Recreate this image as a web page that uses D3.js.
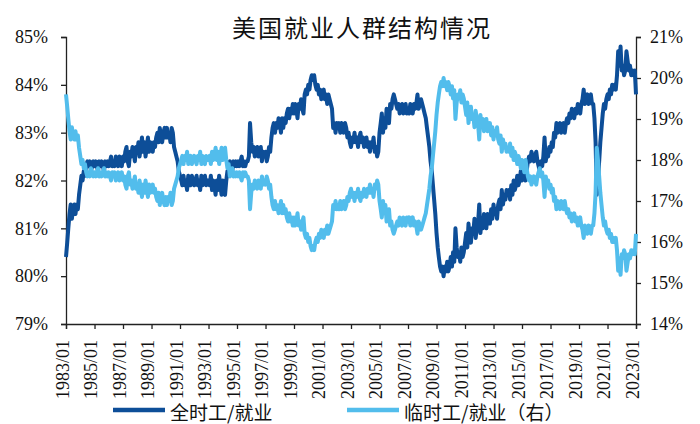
<!DOCTYPE html>
<html>
<head>
<meta charset="utf-8">
<script src="https://cdn.jsdelivr.net/npm/d3@7"></script>
<style>
  body { margin: 0; background: #fff; }
  svg { display: block; }
  .num text { font-family: 'Liberation Serif', 'DejaVu Serif', serif; font-size: 18px; fill: #111; }
</style>
</head>
<body>
<svg id="canvas"></svg>
<script>
// monthly series, 1983/01 .. 2023/01
const startYear = 1983;
const titleText = '美国就业人群结构情况';
const seriesNames = ['全时工/就业', '临时工/就业（右）'];
const leftTicks = [79, 80, 81, 82, 83, 84, 85];
const rightTicks = [14, 15, 16, 17, 18, 19, 20, 21];
const xTickYears = [1983, 1985, 1987, 1989, 1991, 1993, 1995, 1997, 1999, 2001, 2003,
  2005, 2007, 2009, 2011, 2013, 2015, 2017, 2019, 2021, 2023];

// 全时工/就业 (%), left axis
const fullTime = [
  80.4, 80.7, 81.0, 81.3, 81.5, 81.2, 81.4, 81.5, 81.3, 81.5, 81.4, 81.7,
  81.9, 82.1, 82.0, 82.2, 82.1, 82.3, 82.4, 82.3, 82.4, 82.2, 82.3, 82.4,
  82.3, 82.4, 82.3, 82.2, 82.4, 82.3, 82.4, 82.3, 82.2, 82.4, 82.3, 82.4,
  82.3, 82.4, 82.5, 82.3, 82.4, 82.3, 82.5, 82.4, 82.3, 82.5, 82.4, 82.3,
  82.5, 82.4, 82.6, 82.7, 82.4, 82.3, 82.6, 82.5, 82.7, 82.6, 82.4, 82.7,
  82.6, 82.8, 82.5, 82.7, 82.9, 82.6, 82.8, 82.5, 82.7, 82.9, 82.6, 82.8,
  82.7, 82.6, 82.8, 82.7, 82.9, 83.0, 82.8, 83.1, 82.9, 82.8, 83.0, 83.1,
  82.9, 83.1, 82.9, 83.0, 82.8, 83.1, 83.0, 82.7, 82.6, 82.5, 82.4, 82.2,
  82.1, 82.0, 81.9, 82.1, 81.9, 82.0, 81.8, 82.1, 82.0, 81.9, 82.1, 82.0,
  81.9, 82.0, 82.1, 81.9, 82.0, 81.8, 82.1, 81.9, 82.0, 82.1, 81.9, 82.0,
  82.0, 81.9, 82.1, 81.8, 82.0, 81.9, 81.7, 82.0, 81.8, 82.1, 81.9, 81.7,
  82.0, 81.8, 81.7, 82.0, 82.2, 82.1, 82.4, 82.3, 82.2, 82.4, 82.3, 82.4,
  82.3, 82.4, 82.3, 82.4, 82.5, 82.3, 82.4, 82.3, 82.4, 82.4, 82.5, 83.2,
  82.8, 82.6, 82.7, 82.5, 82.6, 82.7, 82.5, 82.6, 82.7, 82.4, 82.6, 82.5,
  82.6, 82.4, 82.5, 82.7, 82.6, 82.9, 83.1, 83.2, 83.0, 83.2, 83.1, 83.3,
  83.2, 83.0, 83.3, 83.1, 83.3, 83.2, 83.4, 83.5, 83.3, 83.5, 83.4, 83.6,
  83.4, 83.6, 83.5, 83.3, 83.6, 83.5, 83.7, 83.5, 83.4, 83.8, 83.9, 83.8,
  84.0, 83.9, 84.1, 84.2, 84.1, 84.2, 84.0, 83.9, 84.0, 83.8, 83.9, 83.7,
  83.8, 83.9, 83.7, 83.8, 83.6, 83.8, 83.7, 83.6, 83.5, 83.1, 83.2, 83.0,
  83.2, 83.1, 83.2, 83.0, 83.2, 83.1, 83.0, 83.2, 83.1, 82.9, 83.0, 82.8,
  82.7, 82.9, 82.8, 83.0, 82.8, 82.9, 82.7, 82.9, 83.0, 82.8, 82.9, 82.7,
  82.8, 82.9, 82.7, 82.8, 82.6, 82.8, 82.7, 82.9, 82.6, 82.7, 82.5, 82.6,
  83.0, 83.2, 83.4, 83.0, 83.3, 83.1, 83.5, 83.3, 83.2, 83.6, 83.5, 83.7,
  83.8, 83.7, 83.6, 83.5, 83.6, 83.4, 83.5, 83.6, 83.4, 83.5, 83.6, 83.4,
  83.5, 83.4, 83.6, 83.5, 83.4, 83.6, 83.5, 83.6, 83.8, 83.5, 83.6, 83.7,
  83.6, 83.5, 83.4, 83.3, 83.1, 82.9, 82.7, 82.4, 82.2, 81.9, 81.6, 81.3,
  80.9, 80.6, 80.4, 80.2, 80.1, 80.2, 80.0, 80.2, 80.1, 80.3, 80.1, 80.2,
  80.4, 80.2, 80.5, 80.3, 81.0, 80.6, 80.4, 80.5, 80.3, 80.6, 80.4, 80.5,
  80.7, 80.9, 80.6, 81.1, 80.8, 80.7, 81.0, 80.9, 81.2, 80.8, 81.0, 81.1,
  81.5, 80.9, 81.2, 81.0, 81.3, 81.1, 81.0, 81.3, 81.2, 81.1, 81.4, 81.2,
  81.5, 81.3, 81.4, 81.2, 81.5, 81.6, 81.4, 81.8, 81.5, 81.7, 81.6, 81.8,
  81.7, 81.8, 81.6, 81.9, 81.7, 82.0, 81.8, 81.9, 82.1, 81.9, 82.0, 82.2,
  82.0, 82.1, 82.3, 82.0, 82.2, 82.4, 82.5, 82.4, 82.6, 82.5, 82.4, 82.5,
  82.6, 82.4, 82.3, 82.2, 82.4, 82.3, 82.5, 82.9, 82.4, 82.6, 82.5, 82.7,
  82.6, 82.8, 82.7, 83.0, 82.9, 83.2, 83.0, 83.1, 83.2, 83.0, 83.1, 83.2,
  83.0, 83.2, 83.3, 83.2, 83.4, 83.3, 83.5, 83.4, 83.3, 83.5, 83.4, 83.6,
  83.5, 83.4, 83.6, 83.7, 83.9, 83.6, 83.7, 83.8, 83.6, 83.7, 83.8, 83.6,
  83.6, 83.3, 82.8, 81.7, 82.0, 82.4, 82.8, 83.1, 83.4, 83.6, 83.5, 83.7,
  83.8, 83.7, 83.9, 83.8, 84.0, 83.9, 84.0, 83.9, 84.2, 84.7, 84.4, 84.8,
  84.3, 84.4, 84.2, 84.3, 84.7, 84.5, 84.3, 84.4, 84.2, 84.3, 84.2, 84.3,
  83.8
];

// 临时工/就业 (%), right axis
const partTime = [
  19.6, 19.3, 19.0, 18.7, 18.5, 18.8, 18.6, 18.5, 18.7, 18.5, 18.6, 18.3,
  18.1, 17.9, 18.0, 17.8, 17.9, 17.7, 17.6, 17.7, 17.6, 17.8, 17.7, 17.6,
  17.7, 17.6, 17.7, 17.8, 17.6, 17.7, 17.6, 17.7, 17.8, 17.6, 17.7, 17.6,
  17.7, 17.6, 17.5, 17.7, 17.6, 17.7, 17.5, 17.6, 17.7, 17.5, 17.6, 17.7,
  17.5, 17.6, 17.4, 17.3, 17.6, 17.7, 17.4, 17.5, 17.3, 17.4, 17.6, 17.3,
  17.4, 17.2, 17.5, 17.3, 17.1, 17.4, 17.2, 17.5, 17.3, 17.1, 17.4, 17.2,
  17.3, 17.4, 17.2, 17.3, 17.1, 17.0, 17.2, 16.9, 17.1, 17.2, 17.0, 16.9,
  17.1, 16.9, 17.1, 17.0, 17.2, 16.9, 17.0, 17.3, 17.4, 17.5, 17.6, 17.8,
  17.9, 18.0, 18.1, 17.9, 18.1, 18.0, 18.2, 17.9, 18.0, 18.1, 17.9, 18.0,
  18.1, 18.0, 17.9, 18.1, 18.0, 18.2, 17.9, 18.1, 18.0, 17.9, 18.1, 18.0,
  18.0, 18.1, 17.9, 18.2, 18.0, 18.1, 18.3, 18.0, 18.2, 17.9, 18.1, 18.3,
  18.0, 18.2, 18.3, 18.0, 17.8, 17.9, 17.6, 17.7, 17.8, 17.6, 17.7, 17.6,
  17.7, 17.6, 17.7, 17.6, 17.5, 17.7, 17.6, 17.7, 17.6, 17.6, 17.5, 16.8,
  17.2, 17.4, 17.3, 17.5, 17.4, 17.3, 17.5, 17.4, 17.3, 17.6, 17.4, 17.5,
  17.4, 17.6, 17.5, 17.3, 17.4, 17.1, 16.9, 16.8, 17.0, 16.8, 16.9, 16.7,
  16.8, 17.0, 16.7, 16.9, 16.7, 16.8, 16.6, 16.5, 16.7, 16.5, 16.6, 16.4,
  16.6, 16.4, 16.5, 16.7, 16.4, 16.5, 16.3, 16.5, 16.6, 16.2, 16.1, 16.2,
  16.0, 16.1, 15.9, 15.8, 15.9, 15.8, 16.0, 16.1, 16.0, 16.2, 16.1, 16.3,
  16.2, 16.1, 16.3, 16.2, 16.4, 16.2, 16.3, 16.4, 16.5, 16.9, 16.8, 17.0,
  16.8, 16.9, 16.8, 17.0, 16.8, 16.9, 17.0, 16.8, 16.9, 17.1, 17.0, 17.2,
  17.3, 17.1, 17.2, 17.0, 17.2, 17.1, 17.3, 17.1, 17.0, 17.2, 17.1, 17.3,
  17.2, 17.1, 17.3, 17.2, 17.4, 17.2, 17.3, 17.1, 17.4, 17.3, 17.5, 17.4,
  17.0, 16.8, 16.6, 17.0, 16.7, 16.9, 16.5, 16.7, 16.8, 16.4, 16.5, 16.3,
  16.2, 16.3, 16.4, 16.5, 16.4, 16.6, 16.5, 16.4, 16.6, 16.5, 16.4, 16.6,
  16.5, 16.6, 16.4, 16.5, 16.6, 16.4, 16.5, 16.4, 16.2, 16.5, 16.4, 16.3,
  16.4, 16.5, 16.6, 16.7, 16.9, 17.1, 17.3, 17.6, 17.8, 18.1, 18.4, 18.7,
  19.1, 19.4, 19.6, 19.8, 19.9, 19.8, 20.0, 19.8, 19.9, 19.7, 19.9, 19.8,
  19.6, 19.8, 19.5, 19.7, 19.0, 19.4, 19.6, 19.5, 19.7, 19.4, 19.6, 19.5,
  19.3, 19.1, 19.4, 18.9, 19.2, 19.3, 19.0, 19.1, 18.8, 19.2, 19.0, 18.9,
  18.5, 19.1, 18.8, 19.0, 18.7, 18.9, 19.0, 18.7, 18.8, 18.9, 18.6, 18.8,
  18.5, 18.7, 18.6, 18.8, 18.5, 18.4, 18.6, 18.2, 18.5, 18.3, 18.4, 18.2,
  18.3, 18.2, 18.4, 18.1, 18.3, 18.0, 18.2, 18.1, 17.9, 18.1, 18.0, 17.8,
  18.0, 17.9, 17.7, 18.0, 17.8, 17.6, 17.5, 17.6, 17.4, 17.5, 17.6, 17.5,
  17.4, 17.6, 17.7, 17.8, 17.6, 17.7, 17.5, 17.1, 17.6, 17.4, 17.5, 17.3,
  17.4, 17.2, 17.3, 17.0, 17.1, 16.8, 17.0, 16.9, 16.8, 17.0, 16.9, 16.8,
  17.0, 16.8, 16.7, 16.8, 16.6, 16.7, 16.5, 16.6, 16.7, 16.5, 16.6, 16.4,
  16.5, 16.6, 16.4, 16.3, 16.1, 16.4, 16.3, 16.2, 16.4, 16.3, 16.2, 16.4,
  16.4, 16.7, 17.2, 18.3, 18.0, 17.6, 17.2, 16.9, 16.6, 16.4, 16.5, 16.3,
  16.2, 16.3, 16.1, 16.2, 16.0, 16.1, 16.0, 16.1, 15.8, 15.3, 15.6, 15.2,
  15.7, 15.6, 15.8, 15.7, 15.3, 15.5, 15.7, 15.6, 15.8, 15.7, 15.8, 15.7,
  16.2
];

const w = 700;
const h = 424;
const margin = { left: 66, right: 64, top: 37, bottom: 102 };
const darkBlue = '#0d4e98';
const lightBlue = '#52bdec';
const cjkFont = '"Noto Sans CJK SC", "Noto Sans", sans-serif';

const months = fullTime.map((d, i) => new Date(startYear, i, 1));

const svg = d3.select('#canvas').attr('width', w).attr('height', h);

const x = d3.scaleTime()
  .domain([new Date(startYear, 0, 1), months[months.length - 1]])
  .range([margin.left, w - margin.right]);
const yLeft = d3.scaleLinear().domain([79, 85]).range([h - margin.bottom + 2, margin.top]);
const yRight = d3.scaleLinear().domain([14, 21]).range([h - margin.bottom + 2, margin.top]);
const baseY = yLeft(79);

// title
svg.append('text')
  .attr('x', 362).attr('y', 37)
  .attr('text-anchor', 'middle')
  .style('font-family', cjkFont)
  .style('font-size', '24px')
  .style('letter-spacing', '2px')
  .style('fill', '#111')
  .text(titleText);

// axes
const yAxisL = d3.axisLeft(yLeft).tickValues(leftTicks).tickFormat(d => d + '%').tickSizeOuter(0).tickSize(5).tickPadding(13);
const gL = svg.append('g').attr('class', 'num').attr('transform', 'translate(' + margin.left + ',0)').call(yAxisL);

const yAxisR = d3.axisRight(yRight).tickValues(rightTicks).tickFormat(d => d + '%').tickSizeOuter(0).tickSize(5).tickPadding(9);
const gR = svg.append('g').attr('class', 'num').attr('transform', 'translate(' + (w - margin.right) + ',0)').call(yAxisR);

const xTicks = xTickYears.map(y => new Date(y, 0, 1));
const xAxis = d3.axisBottom(x).tickValues(xTicks).tickFormat(d3.timeFormat('%Y/%m')).tickSizeOuter(0).tickSize(5);
const gX = svg.append('g').attr('class', 'num').attr('transform', 'translate(0,' + baseY + ')').call(xAxis);
gX.selectAll('text')
  .attr('transform', 'rotate(-90)')
  .attr('x', -16)
  .attr('y', 0)
  .attr('dy', '0.12em')
  .attr('text-anchor', 'end');

[gL, gR, gX].forEach(g => {
  g.attr('font-family', null).attr('font-size', null);
  g.selectAll('.domain, line').attr('stroke', '#222').attr('stroke-width', 1.3);
});

// lines
const lineL = d3.line().x((d, i) => x(months[i])).y(d => yLeft(d));
const lineR = d3.line().x((d, i) => x(months[i])).y(d => yRight(d));

svg.append('path')
  .datum(fullTime)
  .attr('d', lineL)
  .attr('fill', 'none')
  .attr('stroke', darkBlue)
  .attr('stroke-width', 4)
  .attr('stroke-linejoin', 'round');

svg.append('path')
  .datum(partTime)
  .attr('d', lineR)
  .attr('fill', 'none')
  .attr('stroke', lightBlue)
  .attr('stroke-width', 4)
  .attr('stroke-linejoin', 'round');

// legend
const legend = [
  { name: seriesNames[0], color: darkBlue, x: 113 },
  { name: seriesNames[1], color: lightBlue, x: 347 }
];
legend.forEach(l => {
  svg.append('line')
    .attr('x1', l.x).attr('x2', l.x + 52)
    .attr('y1', 410).attr('y2', 410)
    .attr('stroke', l.color)
    .attr('stroke-width', 4.5);
  svg.append('text')
    .attr('x', l.x + 57).attr('y', 411)
    .attr('dominant-baseline', 'central')
    .style('font-family', cjkFont)
    .style('font-size', '19px')
    .style('fill', '#111')
    .text(l.name);
});
</script>
</body>
</html>
